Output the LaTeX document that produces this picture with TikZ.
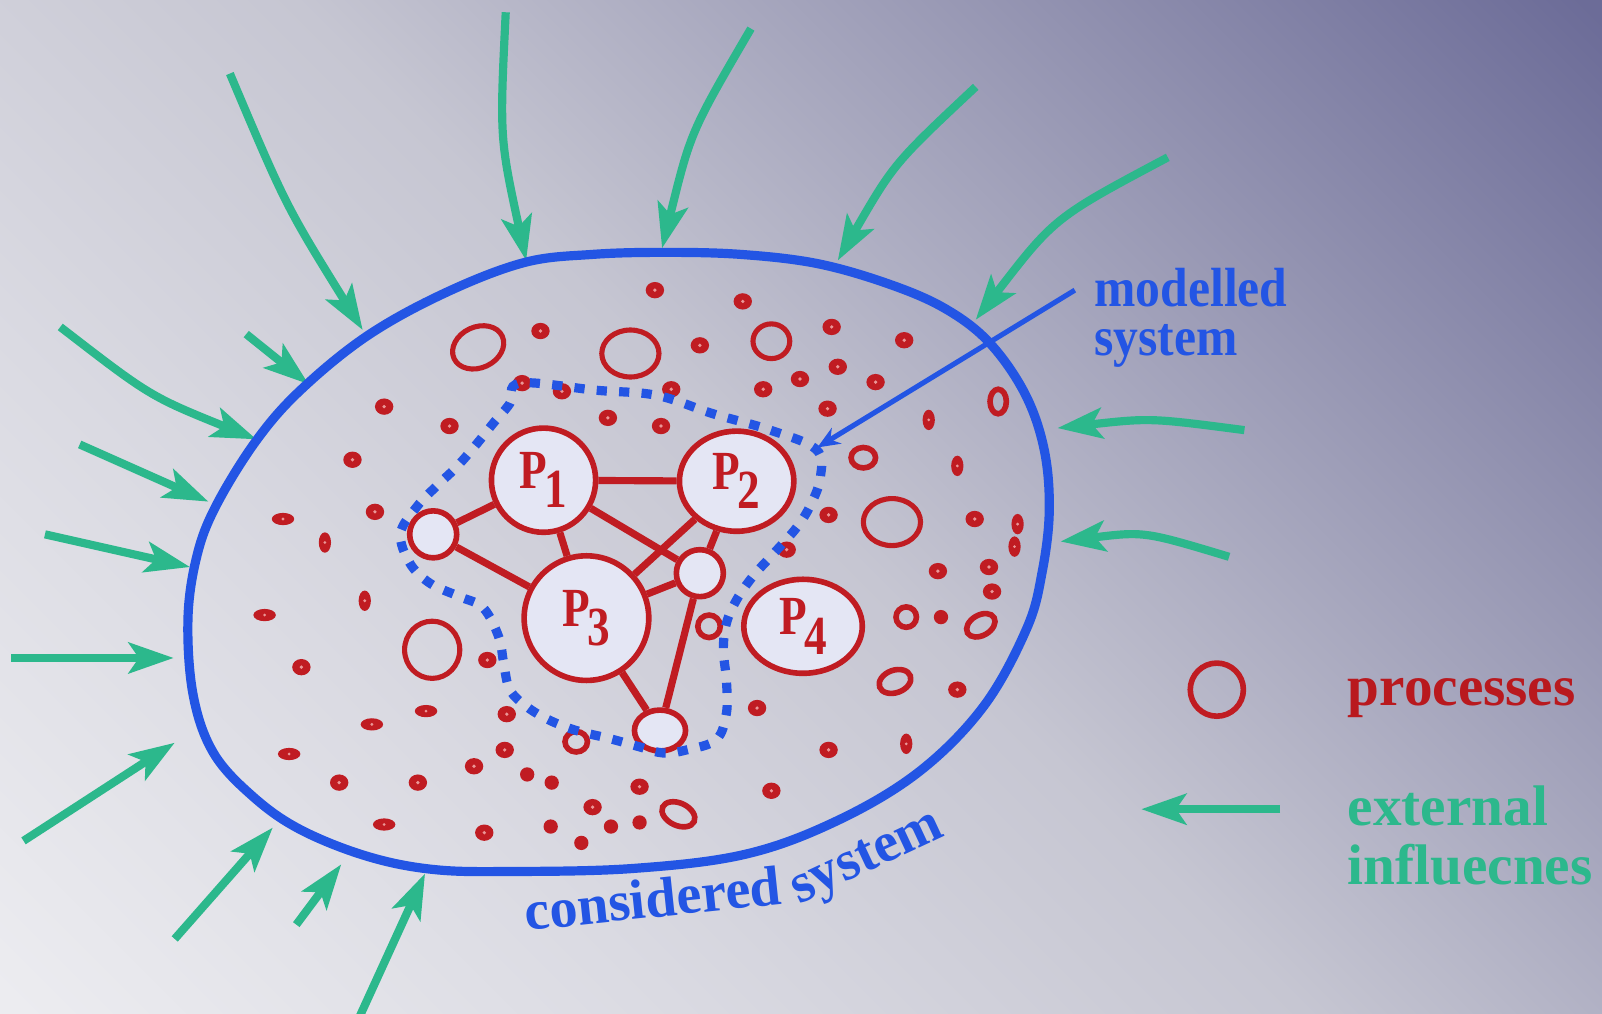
\documentclass[tikz,border=0pt]{standalone}
\usepackage{fontspec}
\setmainfont{Liberation Serif}
\usepackage{graphicx}
\usetikzlibrary{arrows.meta,shapes.geometric}
\definecolor{bgA}{RGB}{236,236,240}
\definecolor{bgB}{RGB}{218,218,226}
\definecolor{bgC}{RGB}{198,198,210}
\definecolor{bgD}{RGB}{152,152,180}
\definecolor{bgE}{RGB}{108,108,152}
\pgfdeclarehorizontalshading{bgshade}{100bp}{color(0bp)=(bgA); color(15bp)=(bgA); color(33bp)=(bgB); color(50bp)=(bgC); color(68bp)=(bgD); color(85bp)=(bgE); color(100bp)=(bgE)}
\definecolor{sysblue}{RGB}{35,85,228}
\definecolor{infgreen}{RGB}{44,184,140}
\definecolor{procred}{RGB}{192,28,34}
\definecolor{legred}{RGB}{185,25,30}
\definecolor{nodefill}{RGB}{228,230,244}
\definecolor{dotcore}{RGB}{235,150,150}
\newcommand{\plab}[1]{\scalebox{0.82}[1]{P\kern-3pt\raisebox{-19pt}{#1}}}
\begin{document}
\begin{tikzpicture}[x=1pt, y={(0pt,-1pt)},
  sysline/.style={draw=sysblue, line width=9pt},
  modline/.style={draw=sysblue, line width=9pt, dash pattern=on 10pt off 12pt},
  inflow/.style={draw=infgreen, line width=8pt, -{Stealth[length=44pt,width=30pt,inset=10pt]}},
  pointer/.style={draw=sysblue, line width=5pt, -{Stealth[length=22pt,width=18pt]}},
  proc/.style={circle, draw=procred, line width=5.5pt, fill=nodefill, inner sep=0pt, text=procred, font=\bfseries\fontsize{54}{54}\selectfont},
  procE/.style={ellipse, draw=procred, line width=5.5pt, fill=nodefill, inner sep=0pt, text=procred, font=\bfseries\fontsize{54}{54}\selectfont},
  link/.style={draw=procred, line width=7pt},
  ring/.style={draw=procred, line width=5pt},
  sring/.style={draw=procred, line width=5.5pt},
  lbl/.style={anchor=base west, inner sep=0pt}]
\useasboundingbox (0,0) rectangle (1568,992);
\shade[shading=bgshade, shading angle=45] (0,0) rectangle (1568,992);

% external influences
\coordinate (a1s) at (225,72);   \coordinate (a1e) at (355,323);
\coordinate (a2s) at (495,12);   \coordinate (a2e) at (515,255);
\coordinate (a3s) at (735,28);   \coordinate (a3e) at (648,243);
\coordinate (a4s) at (955,85);   \coordinate (a4e) at (820,255);
\coordinate (a5s) at (1143,154); \coordinate (a5e) at (955,313);
\coordinate (a6s) at (241,327);  \coordinate (a6e) at (302,376);
\coordinate (a7s) at (59,320);   \coordinate (a7e) at (251,430);
\coordinate (a8s) at (78,435);   \coordinate (a8e) at (204,491);
\coordinate (a9s) at (44,523);   \coordinate (a9e) at (186,555);
\coordinate (a10s) at (11,644);  \coordinate (a10e) at (170,644);
\coordinate (a11s) at (23,823);  \coordinate (a11e) at (171,727);
\coordinate (a12s) at (171,919); \coordinate (a12e) at (267,810);
\coordinate (a13s) at (290,905); \coordinate (a13e) at (334,846);
\coordinate (a14s) at (352,995); \coordinate (a14e) at (416,855);
\coordinate (a15s) at (1218,421); \coordinate (a15e) at (1035,419);
\coordinate (a16s) at (1203,545); \coordinate (a16e) at (1038,530);
\draw[inflow] (a1s) .. controls (280,202) .. (a1e);
\draw[inflow] (a2s) .. controls (489,135) .. (a2e);
\draw[inflow] (a3s) .. controls (676,129) .. (a3e);
\draw[inflow] (a4s) .. controls (875,160) .. (a4e);
\draw[inflow] (a5s) .. controls (1032,213) .. (a5e);
\draw[inflow] (a6s) -- (a6e);
\draw[inflow] (a7s) .. controls (147,388) .. (a7e);
\draw[inflow] (a8s) -- (a8e);
\draw[inflow] (a9s) -- (a9e);
\draw[inflow] (a10s) -- (a10e);
\draw[inflow] (a11s) -- (a11e);
\draw[inflow] (a12s) -- (a12e);
\draw[inflow] (a13s) -- (a13e);
\draw[inflow] (a14s) -- (a14e);
\draw[inflow] (a15s) .. controls (1126,409) .. (a15e);
\draw[inflow] (a16s) .. controls (1120,520) .. (a16e);

% considered system
\draw[sysline] plot[smooth cycle, tension=0.6] coordinates {(650,247) (725,249) (800,258) (870,278) (925,302) (968,335) (1003,385) (1022,440) (1027,500) (1020,560) (1005,615) (963,691) (900,755) (820,803) (730,836) (620,850) (500,853) (424,851) (359,838) (294,812) (248,780) (209,737) (189,680) (184,605) (193,543) (212,494) (251,431) (294,382) (359,329) (435,287) (513,257) (580,249)};

% small processes
\foreach \px/\py in {641/284,727/295,529/324,685/338,814/320,885/333,820/359,783/371,747/381,857/374,810/400,954/508,811/504,918/559,968/555,971/579,937/675,811/734,755/774,741/693,770/538,657/381,550/383,511/375,595/409,647/417,440/417,376/398,345/450,367/501,295/653,477/646,496/699,494/734,464/750,409/766,332/766,626/770,580/790,474/815}
  {\fill[procred] (\px,\py) ellipse (9 and 8); \fill[dotcore] (\px,\py) circle (1.8);}
\foreach \px/\py in {921/604,516/758,540/766,539/809,598/809,626/805,569/825}
  {\fill[procred] (\px,\py) ellipse (7 and 7);}
\foreach \px/\py in {277/508,259/602,417/696,364/709,283/738,376/807}
  {\fill[procred] (\px,\py) ellipse (11 and 6); \fill[dotcore] (\px,\py) circle (1.5);}
\foreach \px/\py in {909/411,937/456,996/513,993/535,318/531,357/588,887/728}
  {\fill[procred] (\px,\py) ellipse (6 and 10); \fill[dotcore] (\px,\py) circle (1.5);}
\draw[ring, rotate around={25:(468,340)}] (468,340) ellipse (26 and 20);
\draw[ring] (617,346) ellipse (28 and 23);
\draw[ring] (755,334) ellipse (18 and 17);
\draw[sring] (977,393) ellipse (8 and 12);
\draw[sring] (845,448) ellipse (12 and 10);
\draw[ring] (873,511) ellipse (28 and 23);
\draw[sring] (887,604) ellipse (10 and 10);
\draw[sring, rotate around={30:(960,612)}] (960,612) ellipse (15 and 10);
\draw[sring, rotate around={20:(876,667)}] (876,667) ellipse (16 and 11);
\draw[sring] (694,613) ellipse (11 and 11);
\draw[ring] (423,636) ellipse (27 and 28);
\draw[sring] (564,726) ellipse (11 and 10);
\draw[sring, rotate around={-25:(664,797)}] (664,797) ellipse (17 and 11);

% modelled processes
\node[proc, minimum size=102pt] (P1) at (532,470) {\plab{1}};
\node[procE, minimum width=112pt, minimum height=98pt] (P2) at (721,471) {\plab{2}};
\node[proc, minimum size=122pt] (P3) at (574,605) {\plab{3}};
\node[procE, minimum width=116pt, minimum height=92pt] (P4) at (786,613) {\plab{4}};
\node[proc, minimum size=46pt] (L) at (424,523) {};
\node[proc, minimum size=46pt] (R) at (685,561) {};
\node[procE, minimum width=50pt, minimum height=40pt] (B) at (646,715) {};
\draw[link] (P1) -- (P2);
\draw[link] (P1) -- (L);
\draw[link] (L) -- (P3);
\draw[link] (P1) -- (P3);
\draw[link] (P1) -- (R);
\draw[link] (P2) -- (P3);
\draw[link] (P2) -- (R);
\draw[link] (P3) -- (R);
\draw[link] (R) -- (B);
\draw[link] (P3) -- (B);

% modelled system boundary
\draw[modline] plot[smooth cycle, tension=0.6] coordinates {(509,375) (584,382) (643,387) (698,405) (754,421) (799,440) (803,467) (794,493) (780,516) (757,542) (737,564) (721,587) (711,610) (708,636) (711,666) (711,698) (701,724) (672,734) (649,737) (626,731) (597,723) (564,715) (538,705) (516,692) (499,675) (493,649) (488,623) (473,595) (450,584) (421,571) (401,551) (392,522) (408,496) (427,476) (447,457) (467,434) (483,414) (499,395)};

% labels
\node[lbl, text=sysblue, font=\bfseries\fontsize{54}{54}\selectfont] (modA) at (1071,300) {\scalebox{0.9}[1]{modelled}};
\node[lbl, text=sysblue, font=\bfseries\fontsize{54}{54}\selectfont] (modB) at (1071,348) {\scalebox{0.9}[1]{system}};
\coordinate (ptS) at (1052,284);
\coordinate (ptE) at (800,438);
\draw[pointer] (ptS) -- (ptE);

\node[lbl, rotate=6, text=sysblue, font=\bfseries\fontsize{55}{55}\selectfont] (consA) at (515,911) {considered};
\node[lbl, rotate=25, text=sysblue, font=\bfseries\fontsize{55}{55}\selectfont] (consB) at (782,885) {system};

% legend
\node[circle, draw=procred, line width=5.5pt, minimum size=52pt, inner sep=0pt] (legP) at (1191,675) {};
\node[lbl, text=legred, font=\bfseries\fontsize{56}{56}\selectfont] (legT1) at (1319,691) {processes};
\coordinate (legS) at (1253,792);
\coordinate (legE) at (1117,792);
\draw[inflow] (legS) -- (legE);
\node[lbl, text=infgreen, font=\bfseries\fontsize{56}{56}\selectfont] (legT2) at (1319,808) {external};
\node[lbl, text=infgreen, font=\bfseries\fontsize{56}{56}\selectfont] (legT3) at (1319,866) {influecnes};
\end{tikzpicture}
\end{document}
